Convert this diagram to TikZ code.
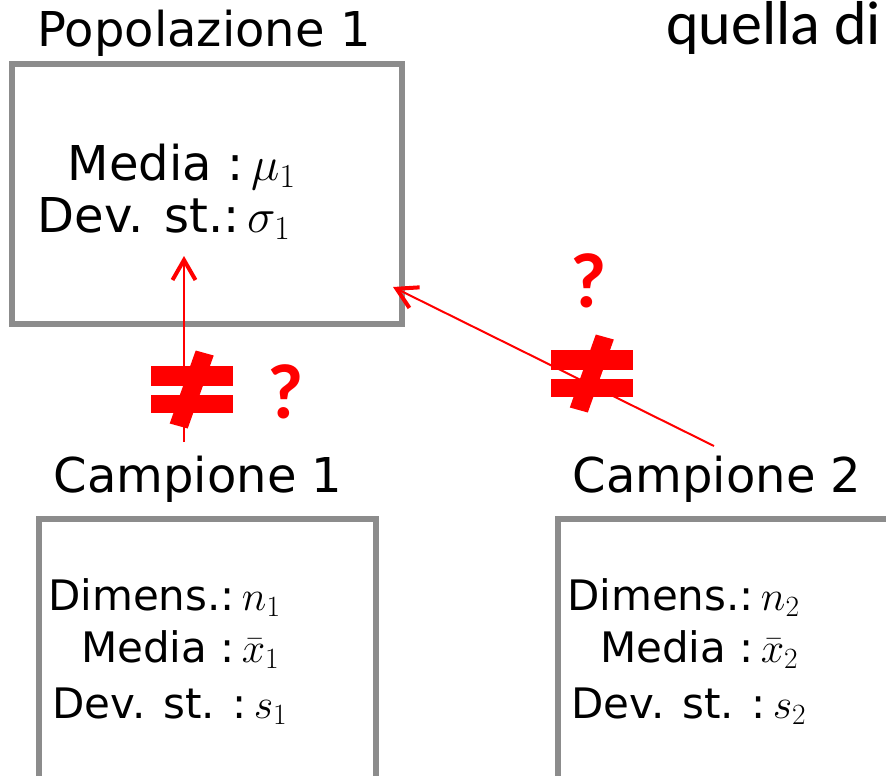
\documentclass[tikz,border=0pt]{standalone}
\usepackage{fix-cm}
\usepackage{amsmath}
\usepackage[no-math]{fontspec}
\setmainfont{DejaVu Sans}
\newfontfamily\calfont{Carlito}
\usetikzlibrary{arrows.meta}
\tikzstyle{box} = [rectangle, draw=black!45, line width=6pt, fill=none, inner sep=0pt]
\tikzstyle{title} = [anchor=base west, inner sep=0pt, font=\fontsize{48}{52}\selectfont]
\tikzstyle{popline} = [anchor=base west, inner sep=0pt, font=\fontsize{48}{52}\selectfont]
\tikzstyle{campline} = [anchor=base west, inner sep=0pt, font=\fontsize{42}{46}\selectfont]
\tikzstyle{query} = [anchor=base, inner sep=0pt, text=red, font=\calfont\bfseries\fontsize{78}{80}\selectfont]
\tikzstyle{link} = [draw=red, line width=2pt, -{Straight Barb[length=20pt, width=23pt, line width=4pt]}]

\begin{document}
\begin{tikzpicture}[x=1pt, y=-1pt]
  \useasboundingbox (0,0) rectangle (886,776);
  % draw the population box
  \node[title] (ptitle) at (37.5,47) {Popolazione 1};
  \node[box, minimum width=390pt, minimum height=259.5pt] (pop) at (206.5,194.25) {};
  \node[popline] (pmean) at (67.5,180) {Media :\,$\mu_1$};
  \node[popline] (psd) at (37.5,232) {Dev. st.:\,$\sigma_1$};
  % draw the two sample boxes
  \foreach \k/\dx in {1/0, 2/519} {
    \node[title] (ctitle\k) at (53.5+\dx,492) {Campione \k};
    \node[box, minimum width=337.5pt, minimum height=281pt] (camp\k) at (207.25+\dx,659.5) {};
    \node[campline] (cdim\k) at (48+\dx,610) {Dimens.:\,$n_{\k}$};
    \node[campline] (cmean\k) at (81+\dx,662) {Media :\,$\bar{x}_{\k}$};
    \node[campline] (csd\k) at (52+\dx,718) {Dev. st. :\,$s_{\k}$};
  }
  % caption text cut by the frame
  \node[anchor=base west, inner sep=0pt, font=\calfont\fontsize{62}{66}\selectfont] (cap) at (666,45) {quella di};
  % draw the links from the samples up to the population
  \coordinate (t1) at (184,442);
  \coordinate (h1) at (184,256);
  \coordinate (t2) at (714,446);
  \coordinate (h2) at (393,287);
  \draw[link] (t1) -- (h1);
  \draw[link] (t2) -- (h2);
  % draw the not-equal marks on top of the links
  \foreach \cx/\cy in {191.7/389.5, 591.8/373.5} {
    \begin{scope}[shift={(\cx,\cy)}]
      \fill[red] (-41,-23.5) rectangle (41,-4);
      \fill[red] (-41,5) rectangle (41,23.5);
      \fill[red] (4,-39) -- (22,-34) -- (-4,39) -- (-22,34) -- cycle;
    \end{scope}
  }
  % question marks
  \node[query] (q1) at (286,418) {?};
  \node[query] (q2) at (589,307) {?};
\end{tikzpicture}
\end{document}
